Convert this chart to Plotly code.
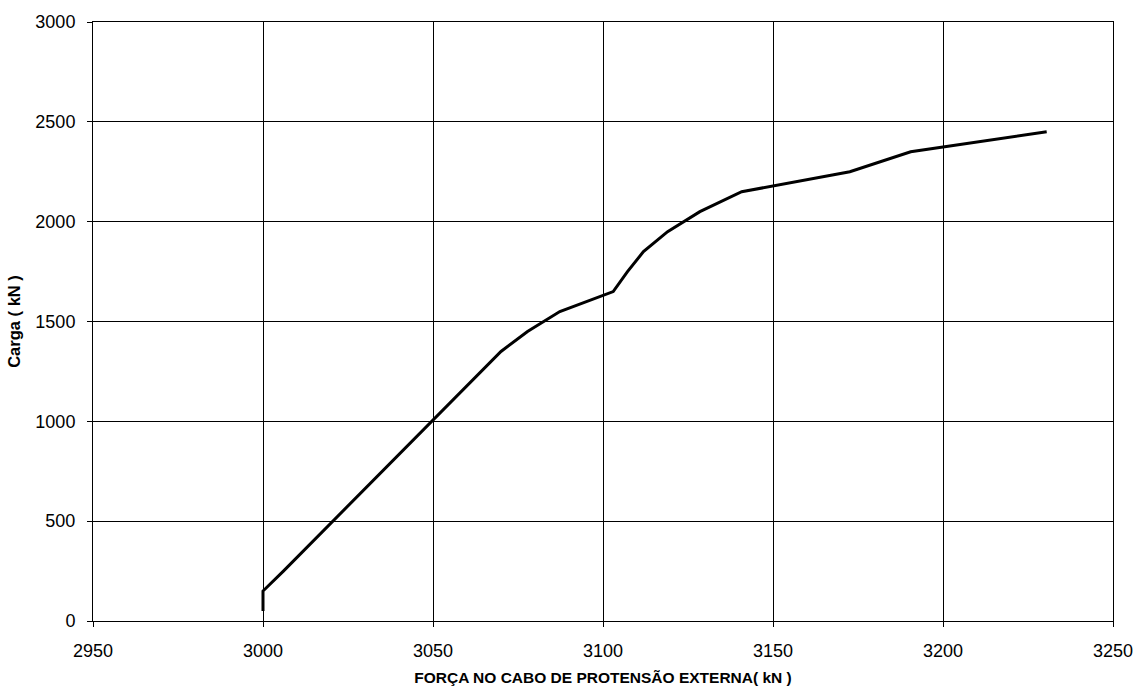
import plotly.graph_objects as go

# Force in external prestressing cable (kN) vs load (kN)
forca = [3000.0, 3000.0, 3006.0, 3011.8, 3017.6, 3023.5, 3029.3, 3035.1, 3040.9, 3046.7,
         3052.5, 3058.4, 3064.2, 3070.0, 3077.8, 3087.3, 3103.0, 3107.2, 3111.9, 3119.0,
         3128.5, 3140.8, 3172.6, 3190.5, 3230.5]
carga = [50, 150, 250, 350, 450, 550, 650, 750, 850, 950,
         1050, 1150, 1250, 1350, 1450, 1550, 1650, 1750, 1850, 1950,
         2050, 2150, 2250, 2350, 2450]

x_ticks = [2950, 3000, 3050, 3100, 3150, 3200, 3250]
y_ticks = [0, 500, 1000, 1500, 2000, 2500, 3000]

x_title = "FORÇA NO CABO DE PROTENSÃO EXTERNA( kN )"
y_title = "Carga ( kN )"

fig = go.Figure()
fig.add_trace(go.Scatter(x=forca, y=carga, mode="lines",
                         line=dict(color="black", width=3), showlegend=False))

font_family = "Liberation Sans, Arial, sans-serif"

fig.update_layout(
    width=1145, height=695,
    margin=dict(l=93, r=30, t=17, b=74),
    paper_bgcolor="white", plot_bgcolor="white",
    font=dict(family=font_family, color="black", size=18),
    xaxis=dict(range=[2950, 3250], tickvals=x_ticks, ticktext=[str(v) for v in x_ticks],
               showgrid=True, gridcolor="#000000", gridwidth=1,
               showline=True, linecolor="black", linewidth=1, mirror=True,
               ticks="outside", ticklen=5, tickcolor="black", ticklabelstandoff=8,
               zeroline=False, tickfont=dict(size=18),
               title=dict(text="<b>" + x_title + "</b>", font=dict(size=15.5), standoff=12)),
    yaxis=dict(range=[0, 3000], tickvals=y_ticks, ticktext=[str(v) for v in y_ticks],
               showgrid=True, gridcolor="#000000", gridwidth=1,
               showline=True, linecolor="black", linewidth=1, mirror=True,
               ticks="outside", ticklen=5, tickcolor="black", ticklabelstandoff=8,
               zeroline=False, tickfont=dict(size=18),
               title=dict(text="<b>" + y_title + "</b>", font=dict(size=16.5), standoff=10)),
)

fig.write_html("out.html", config={"displayModeBar": False},
               post_script="document.body.style.margin='0';")
